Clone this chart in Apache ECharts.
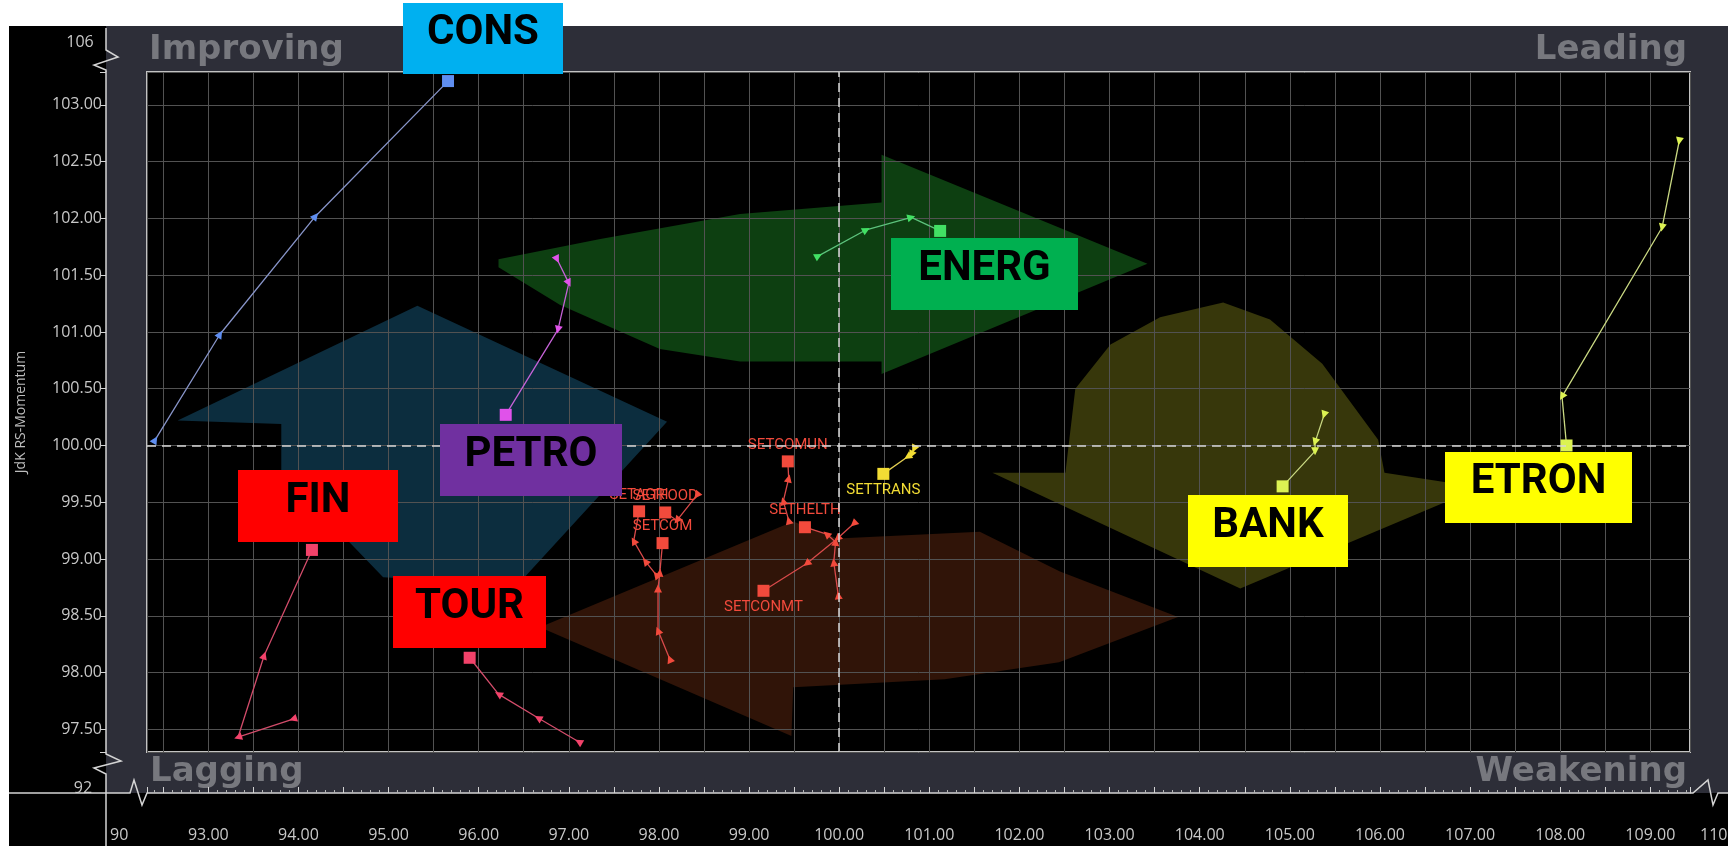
<!DOCTYPE html>
<html>
<head>
<meta charset="utf-8">
<title>Relative Rotation Graph</title>
<script src="https://cdn.jsdelivr.net/npm/echarts@6/dist/echarts.min.js"></script>
<style>
html, body { margin: 0; padding: 0; background: #fff; }
#rrg { width: 1728px; height: 846px; }
</style>
</head>
<body>
<div id="rrg"></div>
<script>
// visible range of the two axes
const xRange = [92.32, 109.44];
const yRange = [97.30, 103.29];

// trails as [JdK RS-Ratio, JdK RS-Momentum], oldest first, latest last
const consTrail   = [[92.41, 100.05], [93.13, 100.98], [94.19, 102.02], [95.66, 103.21]];
const energTrail  = [[99.77, 101.67], [100.30, 101.90], [100.80, 102.01], [101.12, 101.89]];
const petroTrail  = [[96.87, 101.64], [97.00, 101.43], [96.88, 101.02], [96.30, 100.27]];
const finTrail    = [[93.94, 97.59], [93.33, 97.43], [93.62, 98.15], [94.15, 99.08]];
const tourTrail   = [[97.11, 97.39], [96.66, 97.60], [96.22, 97.81], [95.90, 98.13]];
const bankTrail   = [[105.38, 100.27], [105.28, 100.03], [105.28, 99.95], [104.92, 99.64]];
const etronTrail  = [[109.32, 102.68], [109.13, 101.92], [108.02, 100.43], [108.07, 100.00]];
const transTrail  = [[100.83, 99.97], [100.80, 99.92], [100.76, 99.90], [100.49, 99.75]];
const comunTrail  = [[99.44, 99.34], [99.38, 99.51], [99.44, 99.71], [99.43, 99.86]];
const helthTrail  = [[99.99, 98.68], [99.94, 98.97], [99.96, 99.15], [99.86, 99.22], [99.62, 99.28]];
const conmtTrail  = [[100.16, 99.31], [99.98, 99.18], [99.64, 98.96], [99.16, 98.72]];
const agriTrail   = [[97.97, 98.86], [97.85, 98.98], [97.72, 99.16], [97.78, 99.42]];
const foodTrail   = [[98.42, 99.56], [98.20, 99.34], [98.07, 99.41]];
const comTrail    = [[98.12, 98.12], [97.99, 98.37], [97.99, 98.74], [98.01, 98.88], [98.04, 99.14]];

// background rotation arrows, outlines in data units
const greenArrow  = [[96.22, 101.64], [97.35, 101.82], [98.90, 102.04], [100.47, 102.14], [100.47, 102.56], [103.42, 101.60],
                     [100.47, 100.63], [100.47, 100.74], [98.90, 100.74], [98.01, 100.85], [96.90, 101.24], [96.22, 101.57]];
const yellowArrow = [[102.51, 99.76], [101.70, 99.76], [104.45, 98.74], [107.11, 99.63], [106.05, 99.76], [105.98, 100.05],
                     [105.36, 100.72], [104.78, 101.11], [104.26, 101.26], [103.56, 101.13], [103.01, 100.89], [102.62, 100.50]];
const brownArrow  = [[96.68, 98.40], [99.49, 99.33], [99.98, 99.18], [101.56, 99.24], [102.45, 98.89], [103.76, 98.49],
                     [102.44, 98.09], [101.17, 97.94], [99.49, 97.87], [99.47, 97.44]];
const blueArrow   = [[95.32, 101.23], [98.09, 100.21], [96.44, 98.78], [94.94, 98.84], [93.81, 99.77], [93.81, 100.19], [92.66, 100.22]];

const gridBox = { left: 147, top: 72, right: 38, bottom: 94 };
const pxPerX = (1728 - gridBox.left - gridBox.right) / (xRange[1] - xRange[0]);
const pxPerY = (846 - gridBox.top - gridBox.bottom) / (yRange[1] - yRange[0]);

const isStep = (v, step) => Math.abs(v / step - Math.round(v / step)) < 1e-6;

const trails = [
  { name: 'CONS',     trail: consTrail,  color: '#5f8ef0', line: '#8794c8' },
  { name: 'ENERG',    trail: energTrail, color: '#42e064', line: '#5cc27c' },
  { name: 'PETRO',    trail: petroTrail, color: '#e052ea', line: '#c462d6' },
  { name: 'FIN',      trail: finTrail,   color: '#f2426a', line: '#d24c6a' },
  { name: 'TOUR',     trail: tourTrail,  color: '#f2426a', line: '#d24c6a' },
  { name: 'BANK',     trail: bankTrail,  color: '#dcf252', line: '#c9d882' },
  { name: 'ETRON',    trail: etronTrail, color: '#dcf252', line: '#c9d882' },
  { name: 'SETTRANS', trail: transTrail, color: '#f2dc34', line: '#e0cc50', label: 'bottom' },
  { name: 'SETCOMUN', trail: comunTrail, color: '#f24a3c', line: '#d84a4a', label: 'top' },
  { name: 'SETHELTH', trail: helthTrail, color: '#f24a3c', line: '#d84a4a', label: 'top' },
  { name: 'SETCONMT', trail: conmtTrail, color: '#f24a3c', line: '#d84a4a', label: 'bottom' },
  { name: 'SETAGRI',  trail: agriTrail,  color: '#f24a3c', line: '#d84a4a', label: 'top' },
  { name: 'SETFOOD',  trail: foodTrail,  color: '#f24a3c', line: '#d84a4a', label: 'top' },
  { name: 'SETCOM',   trail: comTrail,   color: '#f24a3c', line: '#d84a4a', label: 'top' }
];

function trailSeries(t) {
  const last = t.trail.length - 1;
  const data = t.trail.map((p, i) => {
    if (i === last) {
      return {
        value: p, symbol: 'rect', symbolSize: 12,
        label: t.label ? { show: true, position: t.label, distance: 3, formatter: t.name,
          color: t.color, fontFamily: 'Roboto', fontSize: 15 } : { show: false }
      };
    }
    const a = t.trail[i === 0 ? 0 : i - 1], b = t.trail[i === 0 ? 1 : i];
    const ang = Math.atan2((b[1] - a[1]) * pxPerY, (b[0] - a[0]) * pxPerX) * 180 / Math.PI;
    return { value: p, symbol: 'triangle', symbolSize: 8, symbolRotate: ang - 90 };
  });
  return {
    name: t.name, type: 'line', z: 3, data: data,
    showSymbol: true, showAllSymbol: true, silent: true,
    itemStyle: { color: t.color },
    lineStyle: { color: t.line, width: 1.3 },
    emphasis: { disabled: true }
  };
}

const arrows = [
  { pts: greenArrow,  fill: '#0d3f11' },
  { pts: yellowArrow, fill: '#37370b' },
  { pts: brownArrow,  fill: '#301408' },
  { pts: blueArrow,   fill: '#0c2d3e' }
];

const boxes = [
  { text: 'CONS',  x: 403,  y: 3,   w: 160, h: 71, fill: '#00b0f0' },
  { text: 'ENERG', x: 891,  y: 238, w: 187, h: 72, fill: '#00b050' },
  { text: 'PETRO', x: 440,  y: 424, w: 182, h: 72, fill: '#7030a0' },
  { text: 'FIN',   x: 238,  y: 470, w: 160, h: 72, fill: '#ff0000' },
  { text: 'TOUR',  x: 393,  y: 576, w: 153, h: 72, fill: '#ff0000' },
  { text: 'BANK',  x: 1188, y: 495, w: 160, h: 72, fill: '#ffff00' },
  { text: 'ETRON', x: 1445, y: 452, w: 187, h: 71, fill: '#ffff00' }
];

function txt(text, x, y, font, fill, align, valign, z) {
  return { type: 'text', x: x, y: y, z: z, silent: true,
    style: { text: text, font: font, fill: fill, align: align, verticalAlign: valign,
             textAlign: align, textVerticalAlign: valign } };
}
function zig(points) {
  return { type: 'polyline', z: 5, silent: true, shape: { points: points },
           style: { stroke: '#d4d4d4', lineWidth: 1.5, fill: null } };
}

const quadFont = 'bold 34px "DejaVu Sans"';
const graphic = [
  { type: 'rect', z: -10, silent: true, shape: { x: 9, y: 26, width: 1719, height: 820 }, style: { fill: '#000' } },
  { type: 'rect', z: -9, silent: true, shape: { x: 106, y: 26, width: 1622, height: 767 }, style: { fill: '#2d2e38' } },
  txt('Improving', 149, 50, quadFont, '#77787e', 'left', 'middle', -5),
  txt('Leading', 1687, 50, quadFont, '#77787e', 'right', 'middle', -5),
  txt('Lagging', 150, 772, quadFont, '#77787e', 'left', 'middle', -5),
  txt('Weakening', 1687, 772, quadFont, '#77787e', 'right', 'middle', -5),
  txt('106', 80, 42, '16px "Open Sans"', '#c8c8c8', 'center', 'middle', 5),
  txt('92', 83, 788, '16px "Open Sans"', '#c8c8c8', 'center', 'middle', 5),
  txt('90', 110, 835, '16px "Open Sans"', '#c8c8c8', 'left', 'middle', 5),
  txt('110', 1700, 835, '16px "Open Sans"', '#c8c8c8', 'left', 'middle', 5),
  zig([[106, 28], [106, 50], [118, 57], [94, 65], [106, 70], [106, 72]]),
  zig([[106, 752], [106, 754], [121, 761], [94, 768], [106, 774], [106, 846]]),
  zig([[9, 793], [130, 793], [134, 780], [142, 805], [147, 793]]),
  zig([[1690, 793], [1693, 793], [1708, 780], [1713, 805], [1718, 793], [1728, 793]])
];
boxes.forEach(b => {
  graphic.push({ type: 'rect', z: 100, silent: true, shape: { x: b.x, y: b.y, width: b.w, height: b.h }, style: { fill: b.fill } });
  graphic.push(txt(b.text, b.x + b.w / 2, b.y + b.h / 2 - 5, 'bold 42px Roboto', '#000', 'center', 'middle', 101));
});

const axisFont = { color: '#c8c8c8', fontFamily: 'Open Sans', fontSize: 16 };

const chart = echarts.init(document.getElementById('rrg'));
chart.setOption({
  animation: false,
  grid: Object.assign({ show: true, backgroundColor: '#000', borderColor: '#c2c2c2', borderWidth: 2 }, gridBox),
  xAxis: {
    type: 'value', min: xRange[0], max: xRange[1], splitNumber: 35, offset: 41, z: 2,
    axisLine: { show: true, lineStyle: { color: '#d4d4d4', width: 1.5 } },
    axisTick: { show: true, inside: true, length: 6, lineStyle: { color: '#d4d4d4' } },
    minorTick: { show: true, splitNumber: 5, length: 3, lineStyle: { color: '#b4b4b4' } },
    axisLabel: Object.assign({ margin: 34, formatter: v => isStep(v, 1) ? v.toFixed(2) : '' }, axisFont),
    splitLine: { show: true, lineStyle: { color: '#525252', width: 1 } }
  },
  yAxis: {
    type: 'value', min: yRange[0], max: yRange[1], splitNumber: 12, offset: 41, z: 2,
    name: 'JdK RS-Momentum', nameLocation: 'middle', nameGap: 78,
    nameTextStyle: { color: '#bdbdbd', fontFamily: 'Open Sans', fontSize: 14 },
    axisLine: { show: true, lineStyle: { color: '#d4d4d4', width: 1.5 } },
    axisTick: { show: true, length: 6, lineStyle: { color: '#d4d4d4' } },
    axisLabel: Object.assign({ margin: 4, formatter: v => isStep(v, 0.5) ? v.toFixed(2) : '' }, axisFont),
    splitLine: { show: true, lineStyle: { color: '#525252', width: 1 } }
  },
  graphic: graphic,
  series: [
    {
      type: 'custom', coordinateSystem: 'cartesian2d', z: 1, silent: true, clip: true,
      encode: { x: 0, y: 1 },
      data: arrows.map((a, i) => [100, 100, i]),
      renderItem: function (params, api) {
        const a = arrows[params.dataIndex];
        return { type: 'polygon', shape: { points: a.pts.map(p => api.coord(p)) }, style: { fill: a.fill } };
      }
    },
    {
      type: 'line', z: 2, data: [], silent: true,
      markLine: {
        silent: true, symbol: 'none', label: { show: false },
        lineStyle: { color: '#d8d8d8', type: [9, 6], width: 1.5 },
        data: [{ xAxis: 100 }, { yAxis: 100 }]
      }
    }
  ].concat(trails.map(trailSeries))
});
</script>
</body>
</html>
